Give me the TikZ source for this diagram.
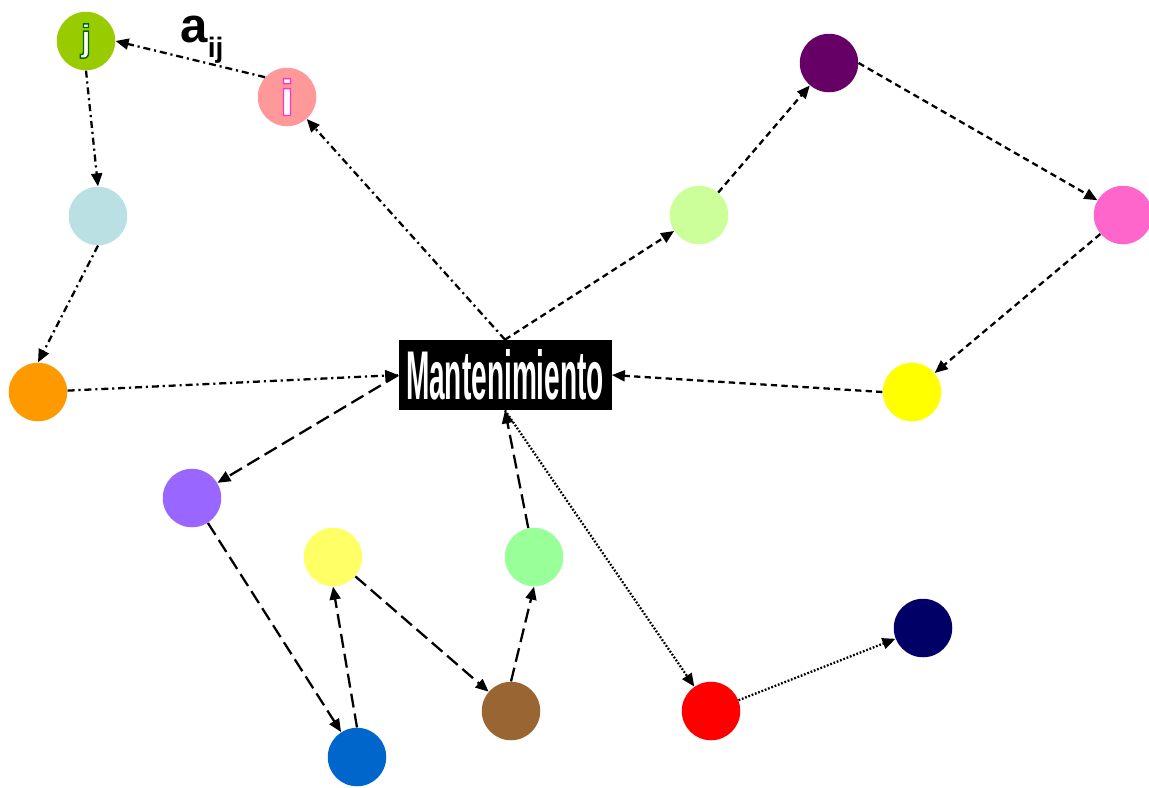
\documentclass[tikz,border=0pt]{standalone}
\usepackage{fontspec}
\setmainfont{Liberation Sans}
\usepackage{graphicx}
\usetikzlibrary{arrows.meta}
\definecolor{cJ}{HTML}{99CC00}
\definecolor{cI}{HTML}{FF9999}
\definecolor{cCyan}{HTML}{BBE0E3}
\definecolor{cOrange}{HTML}{FF9900}
\definecolor{cViolet}{HTML}{9966FF}
\definecolor{cLemon}{HTML}{FFFF66}
\definecolor{cBlue}{HTML}{0066CC}
\definecolor{cBrown}{HTML}{996633}
\definecolor{cMint}{HTML}{99FF99}
\definecolor{cRed}{HTML}{FF0000}
\definecolor{cNavy}{HTML}{000066}
\definecolor{cLime}{HTML}{CCFF99}
\definecolor{cPlum}{HTML}{660066}
\definecolor{cRose}{HTML}{FF66CC}
\definecolor{cYellow}{HTML}{FFFF00}
% outlined letter: white fill, coloured stroke
\newcommand{\outletter}[3]{\textcolor{white}{\special{pdf:literal q 2 Tr 0.8 w #2 RG}\fontsize{#3}{#3}\selectfont\bfseries #1\special{pdf:literal Q}}}

\begin{document}
\begin{tikzpicture}[x=0.2mm,y=-0.2mm,
  dot/.style={circle,minimum size=11.7mm,inner sep=0pt},
  mbox/.style={fill=black,text=white,minimum width=42.6mm,minimum height=14mm,inner sep=0pt},
  link/.style={line width=1.3pt,-{Triangle[length=2.6mm,width=2.2mm]}},
  ddline/.style={link,dash pattern=on 4pt off 2.2pt on 1.2pt off 2.2pt},
  sdline/.style={link,dash pattern=on 3.6pt off 2.4pt},
  ldline/.style={link,dash pattern=on 8pt off 3.5pt},
  dtline/.style={link,dash pattern=on 1pt off 1pt}]
\useasboundingbox (0,0) rectangle (1149,787);
\node[dot,fill=cJ] (j) at (86,41) {\outletter{j}{0 0.4 0}{21}};
\node[dot,fill=cI] (i) at (287,97) {\outletter{i}{1 0.2 0.8}{29}};
\node[dot,fill=cCyan] (cy) at (98,216) {};
\node[dot,fill=cOrange] (or) at (38,392) {};
\node[mbox] (mt) at (505,375) {\resizebox{39.6mm}{10mm}{\bfseries Mantenimiento}};
\node[dot,fill=cViolet] (vi) at (192,498) {};
\node[dot,fill=cLemon] (le) at (333,557) {};
\node[dot,fill=cBlue] (bl) at (357,757) {};
\node[dot,fill=cBrown] (br) at (511,711) {};
\node[dot,fill=cMint] (mi) at (534,557) {};
\node[dot,fill=cRed] (re) at (711,711) {};
\node[dot,fill=cNavy] (na) at (923,628) {};
\node[dot,fill=cLime] (li) at (699,215) {};
\node[dot,fill=cPlum] (pl) at (829,63) {};
\node[dot,fill=cRose] (ro) at (1123,215) {};
\node[dot,fill=cYellow] (ye) at (912,392) {};
% a_ij label
\node (aij) at (202,40) {\fontsize{28}{28}\selectfont\bfseries a\raisebox{-0.3em}{\fontsize{16}{16}\selectfont ij}};
% left chain
\draw[ddline] (i.138) -- (j.east);
\draw[ddline] (j.south) -- (cy.north);
\draw[ddline] (cy.south) -- (or.north);
\draw[ddline] (or) -- (mt.west);
\draw[ddline] (mt.north) -- (i);
% right chain
\draw[sdline] (mt.north) -- (li);
\draw[sdline] (li) -- (pl);
\draw[sdline] (pl.east) -- (ro);
\draw[sdline] (ro) -- (ye);
\draw[sdline] (ye.west) -- (mt.east);
% lower chain
\draw[ldline] (mt.west) -- (vi);
\draw[ldline] (vi) -- (bl);
\draw[ldline] (bl.north) -- (le.south);
\draw[ldline] (le) -- (br);
\draw[ldline] (br.north) -- (mi.south);
\draw[ldline] (mi) -- (mt.south);
% dotted chain
\draw[dtline] (mt.south) -- (re);
\draw[dtline] (re) -- (na);
\end{tikzpicture}
\end{document}
